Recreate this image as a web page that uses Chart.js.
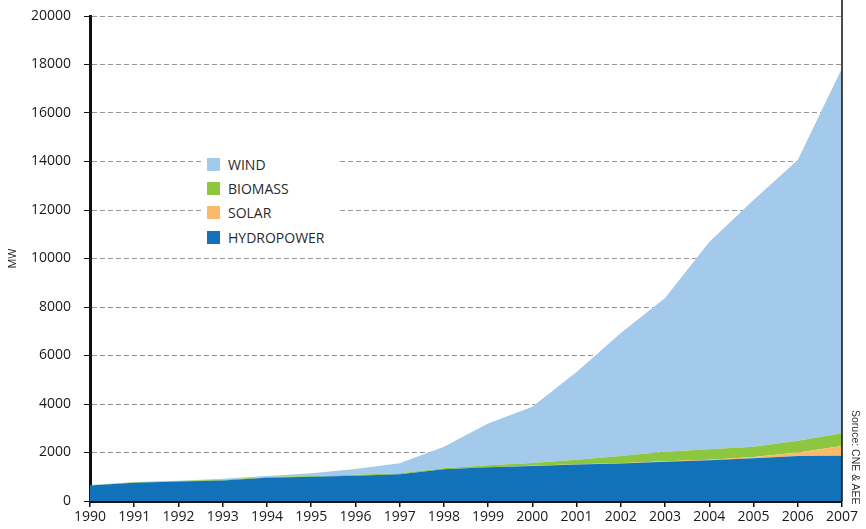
<!DOCTYPE html>
<html>
<head>
<meta charset="utf-8">
<script src="https://cdn.jsdelivr.net/npm/chart.js@4"></script>
<style>
  html, body { margin: 0; padding: 0; background: #fff; }
  #wrap { position: relative; width: 866px; height: 529px; }
  #legend {
    position: absolute; left: 203px; top: 150px; width: 134px; height: 100px;
    background: #fff; font-family: "Open Sans", sans-serif; font-size: 14px; color: #2a2a2a;
  }
  #legend div { position: absolute; left: 25px; line-height: 16px; }
  #legend span { position: absolute; left: -21px; top: 1px; width: 13px; height: 13px; }
  #source {
    position: absolute; left: 843px; top: 410px; width: 100px; height: 14px;
    transform-origin: 0 0; transform: translate(19px, 0) rotate(90deg);
    font-family: Arial, "Liberation Sans", sans-serif; font-size: 10.5px; color: #333; white-space: nowrap;
  }
</style>
</head>
<body>
<div id="wrap">
  <canvas id="myChart" width="866" height="529"></canvas>
  <div id="legend">
    <div style="top:7px"><span style="background:#a3c9eb"></span>WIND</div>
    <div style="top:31px"><span style="background:#8dc63f"></span>BIOMASS</div>
    <div style="top:55px"><span style="background:#fbb96b"></span>SOLAR</div>
    <div style="top:80px"><span style="background:#1172ba"></span>HYDROPOWER</div>
  </div>
  <div id="source">Soruce: CNE &amp; AEE</div>
</div>
<script>
// years
var years = ["1990","1991","1992","1993","1994","1995","1996","1997","1998","1999",
             "2000","2001","2002","2003","2004","2005","2006","2007"];
// MW by source (stacked)
var hydro   = [640, 755, 800, 850, 960, 1000, 1045, 1100, 1305, 1390, 1445, 1510, 1550, 1620, 1680, 1760, 1855, 1870];
var solar   = [0, 0, 0, 0, 0, 0, 0, 0, 5, 5, 10, 10, 10, 15, 20, 50, 140, 400];
var biomass = [10, 15, 20, 25, 25, 30, 35, 40, 45, 80, 110, 180, 300, 400, 430, 430, 485, 520];
var wind    = [10, 10, 20, 40, 50, 110, 240, 415, 885, 1725, 2325, 3620, 5070, 6335, 8550, 10170, 11580, 15060];
var yTicks  = [0, 2000, 4000, 6000, 8000, 10000, 12000, 14000, 16000, 18000, 20000];

var font = { family: "'Open Sans', sans-serif", size: 14 };

function area(label, data, color, fill) {
  return {
    label: label, data: data, backgroundColor: color, borderColor: color,
    borderWidth: 0, pointRadius: 0, fill: fill, tension: 0
  };
}

var ctx = document.getElementById("myChart");
new Chart(ctx, {
  type: "line",
  data: {
    labels: years,
    datasets: [
      area("HYDROPOWER", hydro, "#1172ba", "origin"),
      area("SOLAR", solar, "#fbb96b", "-1"),
      area("BIOMASS", biomass, "#8dc63f", "-1"),
      area("WIND", wind, "#a3c9eb", "-1")
    ]
  },
  plugins: [{
    // right border line
    id: "rightLine",
    afterDraw: function(chart) {
      var c = chart.ctx, a = chart.chartArea;
      c.save();
      c.strokeStyle = "#111";
      c.lineWidth = 1.5;
      c.beginPath();
      c.moveTo(a.right, a.top - 16);
      c.lineTo(a.right, a.bottom);
      c.stroke();
      c.restore();
    }
  }],
  options: {
    responsive: false,
    animation: false,
    layout: { padding: { top: 16, right: 24, left: 0, bottom: 0 } },
    plugins: { legend: { display: false }, tooltip: { enabled: false } },
    scales: {
      x: {
        offset: false,
        grid: { drawOnChartArea: false, tickLength: 6, color: "#111", lineWidth: 1.5 },
        border: { color: "#111", width: 3 },
        ticks: { color: "#1a1a1a", font: font, maxRotation: 0, autoSkip: false, padding: 2 },
        afterFit: function(s) { s.height = 28; }
      },
      y: {
        stacked: true,
        min: 0, max: 20000,
        afterBuildTicks: function(s) { s.ticks = yTicks.map(function(v) { return { value: v }; }); },
        grid: {
          color: "#999", lineWidth: 1, tickColor: "#111", tickLength: 6,
          drawOnChartArea: true
        },
        border: { color: "#111", width: 3, dash: [5, 3] },
        ticks: {
          color: "#1a1a1a", font: font, padding: 13,
          callback: function(value) { return String(value); }
        },
        title: { display: true, text: "MW", color: "#222", font: { family: "'Open Sans', sans-serif", size: 11 }, padding: { top: 6, bottom: 0 } },
        afterFit: function(s) { s.width = 90; s.paddingTop = 0; s.paddingBottom = 0; }
      }
    }
  }
});
</script>
</body>
</html>
